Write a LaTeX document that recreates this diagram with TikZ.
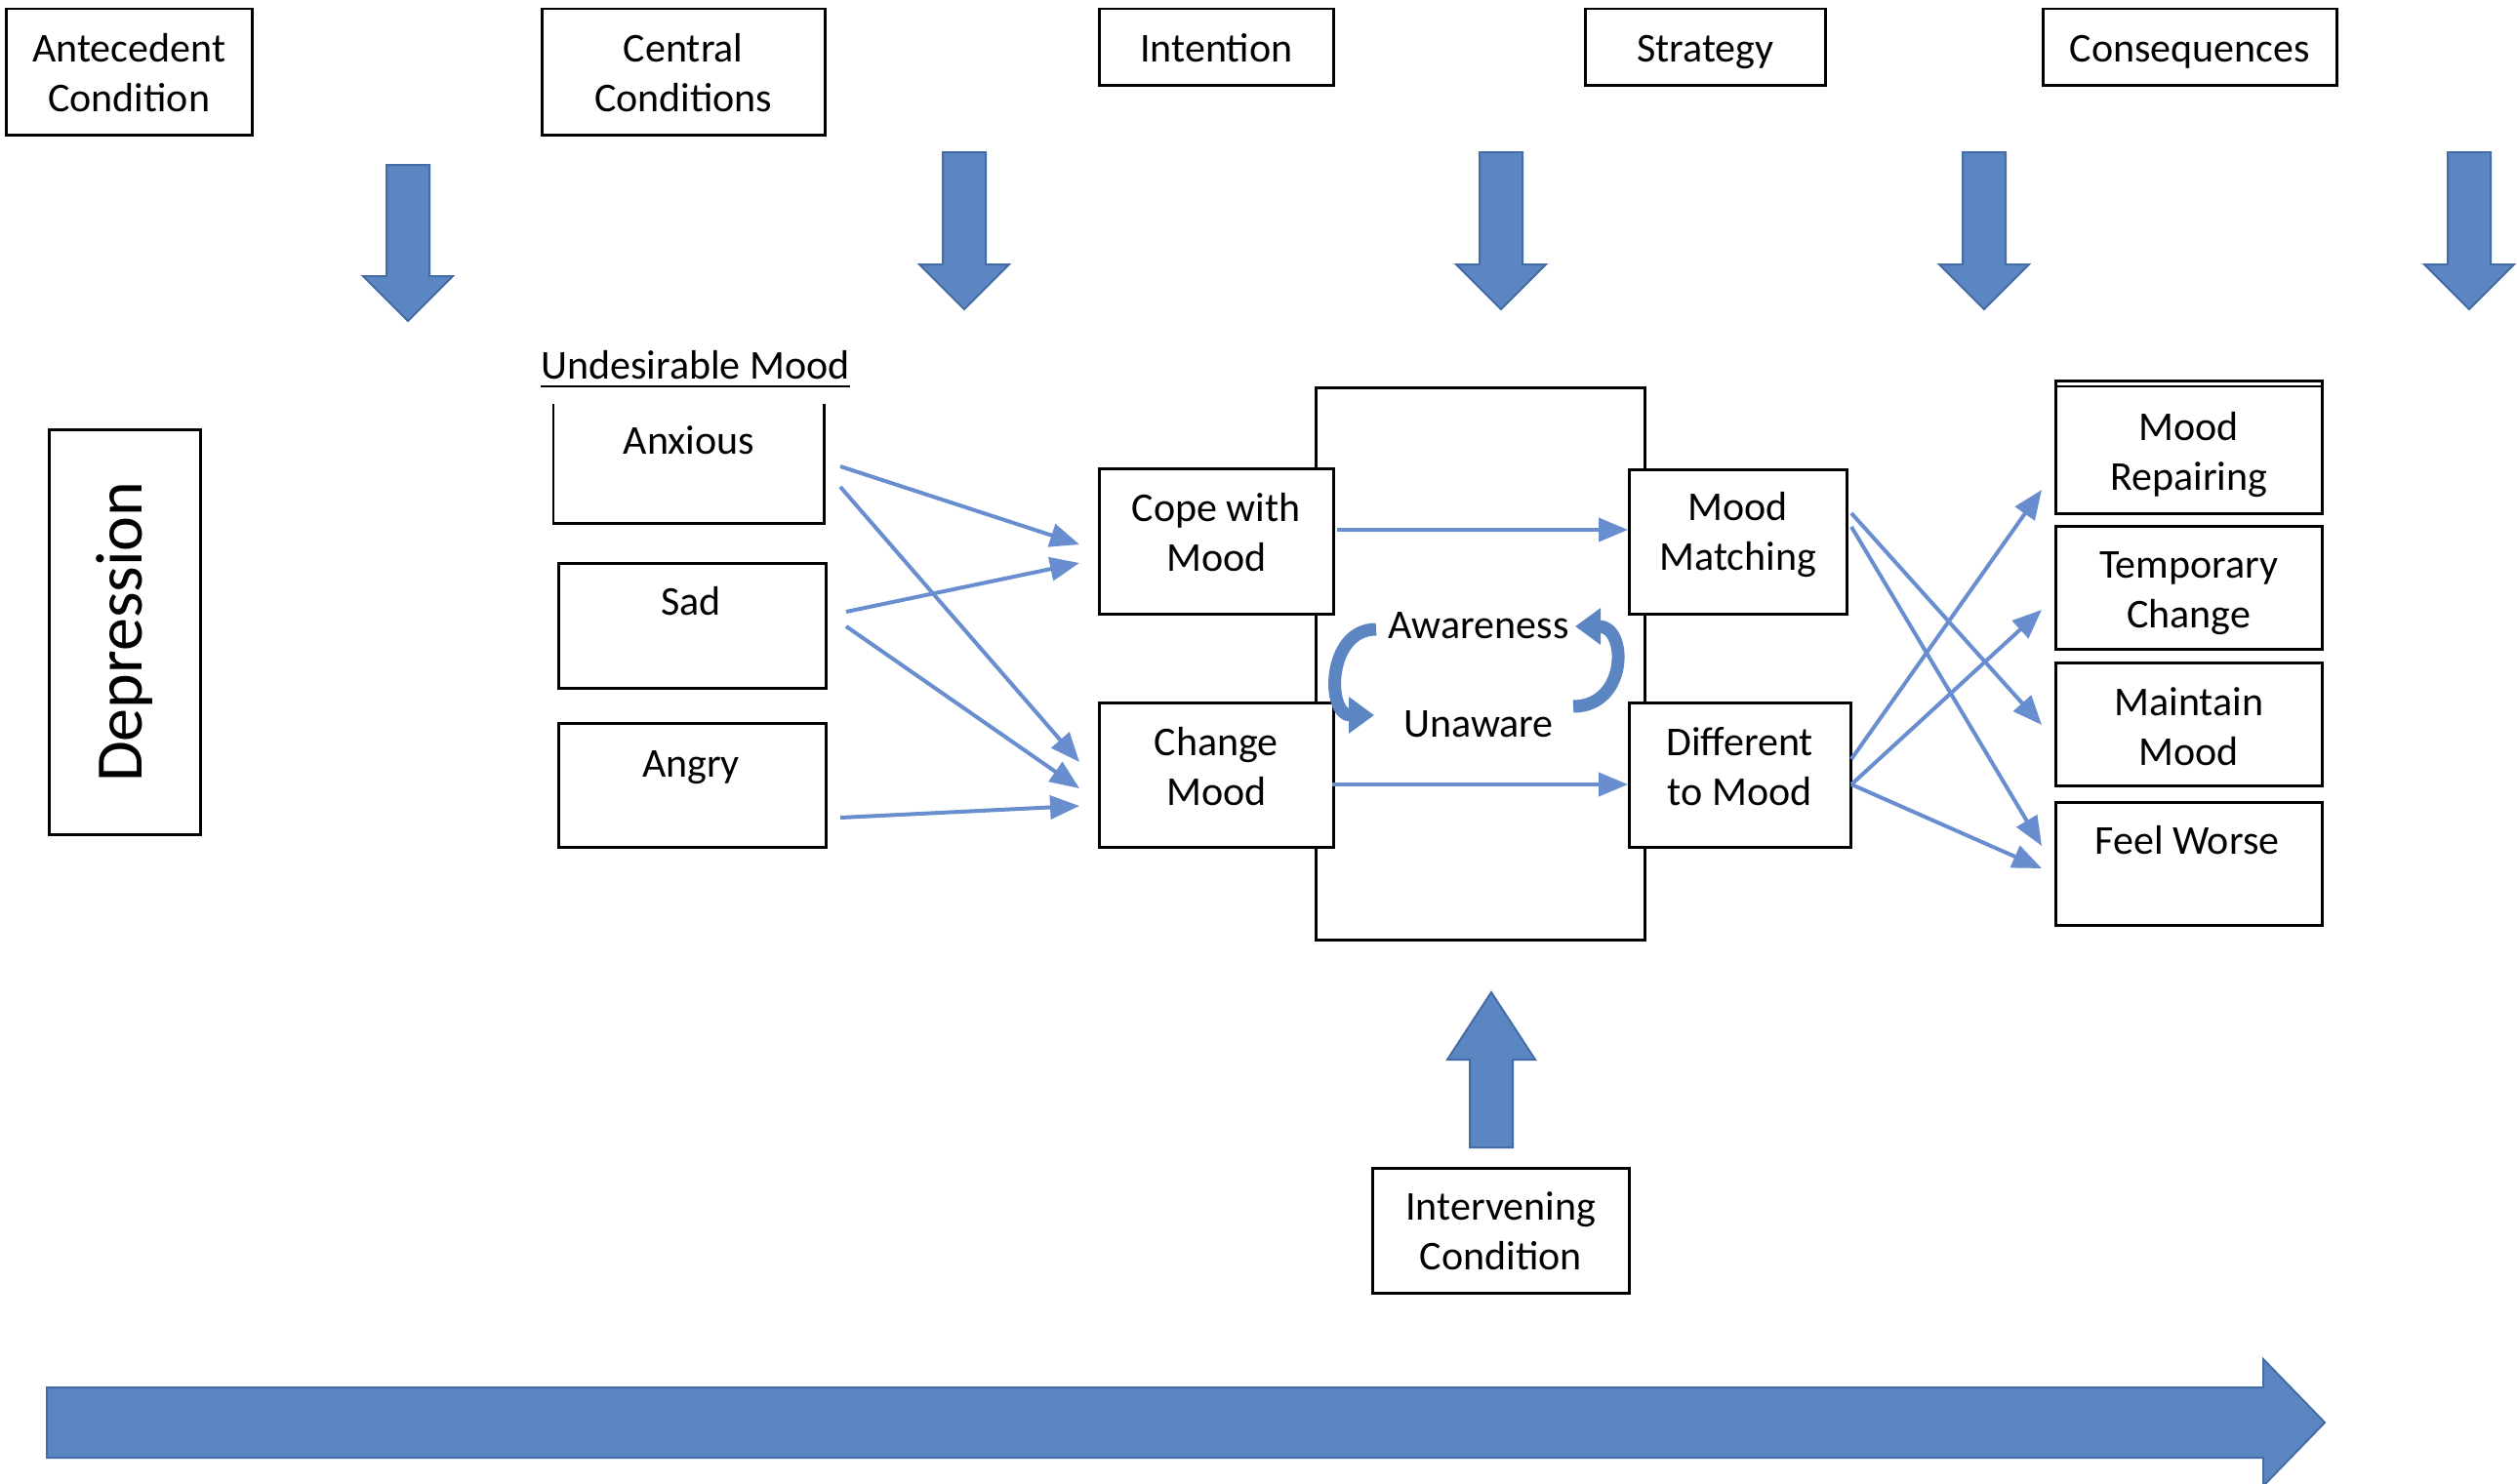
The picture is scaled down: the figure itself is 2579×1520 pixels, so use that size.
\documentclass[tikz,border=0pt]{standalone}
\usepackage{fontspec}
\setmainfont{Carlito}
\usetikzlibrary{arrows.meta}
\definecolor{blockblue}{RGB}{92,134,193}
\definecolor{blockedge}{RGB}{68,108,165}
\definecolor{linkblue}{RGB}{104,142,208}
\newcommand\blockdown[4]{\filldraw[blockarrow] (#1-22,#2) -- (#1+22,#2) -- (#1+22,#3) -- (#1+46,#3) -- (#1,#4) -- (#1-46,#3) -- (#1-22,#3) -- cycle;}
\begin{document}
\begin{tikzpicture}[x=1pt,y=-1pt,
  lbl/.style={font=\fontsize{42}{51}\selectfont, align=center, inner sep=0pt},
  tnode/.style={lbl, execute at begin node=\strut, execute at end node=\strut},
  box/.style={draw=black, line width=2.5pt, fill=white, font=\fontsize{42}{51}\selectfont, align=center, inner sep=0pt, anchor=north west,
     execute at begin node=\strut, execute at end node=\strut},
  tup/.style={execute at end node={\rule[-#1]{0pt}{#1}}},
  tdown/.style={execute at begin node={\rule{0pt}{#1}}},
  openbox/.style={inner sep=0pt, anchor=north west},
  edge/.style={draw=black, line width=2.5pt},
  link/.style={draw=linkblue, line width=4pt, -{Triangle[length=30pt,width=24pt]}},
  blockarrow/.style={fill=blockblue, draw=blockedge, line width=2pt, line join=miter},
  bendarrow/.style={draw=blockblue, line width=13pt, -{Triangle[length=26pt,width=36pt]}}]
\useasboundingbox (0,0) rectangle (2579,1520);
\fill[white] (0,0) rectangle (2579,1520);

% top headers
\node[box, minimum width=252pt, minimum height=129pt] (ante) at (5,8) {};
\node[tnode, yshift=-8pt] (antet) at (ante.center) {Antecedent\\Condition};
\node[box, minimum width=290pt, minimum height=129pt] (central) at (554,8) {};
\node[tnode, yshift=-8pt] (centralt) at (central.center) {Central\\Conditions};
\node[box, tdown=46pt, minimum width=240pt, minimum height=78pt] (intent) at (1125,8) {Intention};
\node[box, tdown=46pt, minimum width=246pt, minimum height=78pt] (strat) at (1623,8) {Strategy};
\node[box, tdown=46pt, minimum width=301pt, minimum height=78pt] (conseq) at (2092,8) {Consequences};

% down block arrows
\blockdown{418}{169}{283}{329}
\blockdown{988}{156}{271}{317}
\blockdown{1538}{156}{271}{317}
\blockdown{2033}{156}{271}{317}
\blockdown{2530}{156}{271}{317}

% depression
\node[box, minimum width=155pt, minimum height=415pt] (dep) at (49,439) {};
\node[rotate=90, font=\fontsize{68}{80}\selectfont, inner sep=0pt] (deptext) at (dep.center) {Depression};

% undesirable mood
\node[lbl, anchor=base west] (um) at (554,388) {Undesirable Mood};
\draw[line width=2.5pt] ([yshift=-8pt]um.base west) -- ([yshift=-8pt]um.base east);

\node[openbox, minimum width=277pt, minimum height=122pt] (anx) at (567,414) {};
\draw[edge] (anx.north west) -- (anx.south west) -- (anx.south east) -- (anx.north east);
\node[lbl, anchor=base] (anxt) at (706,465) {Anxious};
\node[box, minimum width=274pt, minimum height=128pt] (sad) at (571,576) {};
\node[lbl, anchor=base] (sadt) at (708,630) {Sad};
\node[box, minimum width=274pt, minimum height=127pt] (angry) at (571,740) {};
\node[lbl, anchor=base] (angryt) at (708,796) {Angry};

% center
\node[draw=black, line width=2.5pt, minimum width=337pt, minimum height=566pt, anchor=north west, inner sep=0pt] (aw) at (1347,396) {};
\node[box, tup=18pt, minimum width=240pt, minimum height=149pt] (cope) at (1125,479) {Cope with\\Mood};
\node[box, tup=18pt, minimum width=240pt, minimum height=148pt] (change) at (1125,719) {Change\\Mood};
\node[box, tup=22pt, minimum width=223pt, minimum height=148pt] (match) at (1668,480) {Mood\\Matching};
\node[box, tup=18pt, minimum width=227pt, minimum height=148pt] (diff) at (1668,719) {Different\\to Mood};
\node[lbl] (awr) at (1515,641) {Awareness};
\node[lbl] (unaw) at (1515,742) {Unaware};
\draw[bendarrow] (1410,645) .. controls (1359,645) and (1359,733) .. (1408,733);
\draw[bendarrow] (1612,724) .. controls (1668,724) and (1668,642) .. (1614,642);

% consequences
\node[box, minimum width=273pt, minimum height=136pt] (mr) at (2105,389) {};
\node[tnode, yshift=-12pt] (mrt) at (mr.center) {Mood\\Repairing};
\draw[line width=2pt] ([yshift=-7pt]mr.north west) -- ([yshift=-7pt]mr.north east);
\node[box, minimum width=273pt, minimum height=126pt] (tc) at (2105,538) {};
\node[tnode, yshift=-10pt] (tct) at (tc.center) {Temporary\\Change};
\node[box, minimum width=273pt, minimum height=126pt] (mm) at (2105,678) {};
\node[tnode, yshift=-10pt] (mmt) at (mm.center) {Maintain\\Mood};
\node[box, minimum width=273pt, minimum height=126pt] (fw) at (2105,821) {};
\node[lbl, anchor=base] (fwt) at (2241,875) {Feel Worse};

% intervening
\node[box, minimum width=263pt, minimum height=128pt] (interv) at (1405,1196) {};
\node[tnode, yshift=-8pt] (intervt) at (interv.center) {Intervening\\Condition};
\filldraw[blockarrow] (1506,1176) -- (1506,1086) -- (1483,1086) -- (1528,1017) -- (1573,1086) -- (1550,1086) -- (1550,1176) -- cycle;

% timeline arrow
\filldraw[blockarrow] (48,1422) -- (2319,1422) -- (2319,1393) -- (2382,1458) -- (2319,1523) -- (2319,1494) -- (48,1494) -- cycle;

% link endpoints
\coordinate (a1) at (861,478); \coordinate (c1) at (1106,558);
\coordinate (a2) at (861,499); \coordinate (h1) at (1106,781);
\coordinate (s1) at (867,627); \coordinate (c2) at (1106,577);
\coordinate (s2) at (867,642); \coordinate (h2) at (1106,808);
\coordinate (g1) at (861,838); \coordinate (h3) at (1106,826);
\coordinate (co) at (1370,543); \coordinate (mi) at (1668,543);
\coordinate (ch) at (1365,804); \coordinate (di) at (1668,804);
\coordinate (m1) at (1897,526); \coordinate (mmi) at (2092,743);
\coordinate (m2) at (1897,540); \coordinate (fw1) at (2092,867);
\coordinate (d1) at (1897,778); \coordinate (mri) at (2092,502);
\coordinate (d2) at (1897,804); \coordinate (tci) at (2092,625);
\coordinate (fw2) at (2092,890);

\draw[link] (a1) -- (c1);
\draw[link] (a2) -- (h1);
\draw[link] (s1) -- (c2);
\draw[link] (s2) -- (h2);
\draw[link] (g1) -- (h3);
\draw[link] (co) -- (mi);
\draw[link] (ch) -- (di);
\draw[link] (m1) -- (mmi);
\draw[link] (m2) -- (fw1);
\draw[link] (d1) -- (mri);
\draw[link] (d2) -- (tci);
\draw[link] (d2) -- (fw2);
\end{tikzpicture}
\end{document}
